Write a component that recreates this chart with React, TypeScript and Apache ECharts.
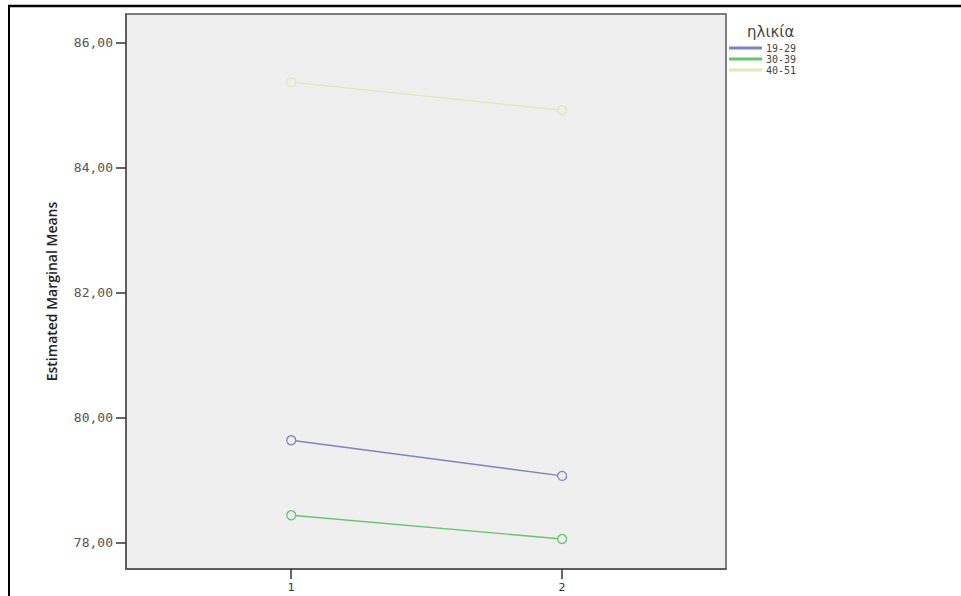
import React, { useEffect, useRef } from "react";
import * as echarts from "echarts";

const categories = [1, 2];
const ageGroups = ["19-29", "30-39", "40-51"];
const s19_29 = [79.64, 79.07];
const s30_39 = [78.44, 78.06];
const s40_51 = [85.37, 84.92];
const yTicks = [78, 80, 82, 84, 86];
const colors = ["#7f82c6", "#62c76c", "#e3e8b4"];

export default function App() {
  const ref = useRef<HTMLDivElement>(null);
  useEffect(() => {
    if (!ref.current) return;
    const chart = echarts.init(ref.current, undefined, { renderer: "svg" });
    const seriesData = [s19_29, s30_39, s40_51];
    chart.setOption({
      animation: false,
      backgroundColor: "#ffffff",
      title: {
        text: "ηλικία",
        left: 742,
        top: 19,
        textStyle: { fontFamily: "DejaVu Sans", fontSize: 15, fontWeight: "normal", color: "#444" },
      },
      legend: {
        orient: "vertical",
        left: 729,
        top: 43,
        padding: 0,
        itemGap: 1,
        itemWidth: 31,
        itemHeight: 1,
        icon: "rect",
        data: ageGroups,
        textStyle: { fontFamily: "DejaVu Sans Mono", fontSize: 10, color: "#444", lineHeight: 10 },
      },
      grid: {
        left: 126,
        top: 14,
        right: 235,
        bottom: 27,
        show: true,
        backgroundColor: "#efefef",
        borderColor: "#555",
        borderWidth: 1.5,
      },
      xAxis: {
        type: "value",
        min: 0.39,
        max: 2.605,
        splitLine: { show: false },
        axisLine: { show: true, onZero: false, lineStyle: { color: "#555", width: 1.5 } },
        axisTick: { show: true, length: 10, customValues: categories, lineStyle: { color: "#333", width: 1.5 } },
        axisLabel: {
          customValues: categories,
          margin: 13,
          fontFamily: "DejaVu Sans",
          fontSize: 11,
          color: "#333",
        },
      },
      yAxis: {
        type: "value",
        min: 77.58,
        max: 86.46,
        name: "Estimated Marginal Means",
        nameLocation: "middle",
        nameRotate: 90,
        nameGap: 68,
        nameTextStyle: { fontFamily: "Open Sans", fontSize: 14, fontWeight: 600, color: "#222" },
        splitLine: { show: false },
        axisLine: { show: true, lineStyle: { color: "#555", width: 1.5 } },
        axisTick: { show: true, length: 10, customValues: yTicks, lineStyle: { color: "#333", width: 1.5 } },
        axisLabel: {
          customValues: yTicks,
          margin: 13,
          fontFamily: "DejaVu Sans Mono",
          fontSize: 13,
          color: "#555",
          formatter: (v: number) => v.toFixed(2).replace(".", ","),
        },
      },
      series: ageGroups.map((name, i) => ({
        name,
        type: "line",
        data: categories.map((c, j) => [c, seriesData[i][j]]),
        symbol: "circle",
        symbolSize: 9,
        color: colors[i],
        lineStyle: { width: 1.3, color: colors[i] },
        itemStyle: { color: "#efefef", borderColor: colors[i], borderWidth: 1.3 },
      })),
      graphic: [
        { type: "line", shape: { x1: 8, y1: 6, x2: 961, y2: 6 }, style: { stroke: "#000", lineWidth: 2.5 } },
        { type: "line", shape: { x1: 9, y1: 6, x2: 9, y2: 596 }, style: { stroke: "#000", lineWidth: 2 } },
      ],
    });
    return () => chart.dispose();
  }, []);
  return <div ref={ref} style={{ position: "fixed", left: 0, top: 0, width: 961, height: 596 }} />;
}
